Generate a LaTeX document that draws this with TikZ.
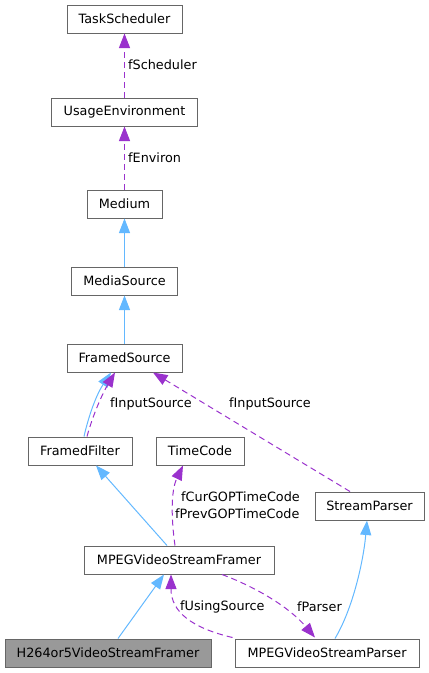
\documentclass[tikz,border=0pt]{standalone}
\usepackage{fontspec}
\setmainfont{DejaVu Sans}
\usetikzlibrary{arrows.meta,calc}
\definecolor{edgeblue}{HTML}{63B8FF}
\definecolor{edgepurple}{HTML}{9A32CD}
\definecolor{boxborder}{HTML}{666666}
\definecolor{boxgray}{HTML}{999999}
\begin{document}
\begin{tikzpicture}[x=1pt,y=-1pt,
  font=\fontsize{12.8}{15}\selectfont,
  box/.style={draw=boxborder,line width=1pt,fill=white,inner sep=0pt,minimum height=28pt,text=black},
  graybox/.style={box,fill=boxgray},
  inh/.style={draw=edgeblue,line width=1pt,-{Triangle[length=14.5pt,width=11pt]},fill=none},
  use/.style={draw=edgepurple,line width=1pt,dash pattern=on 6pt off 4pt,-{Triangle[length=14.5pt,width=11pt]}},
  lbl/.style={anchor=west,inner sep=0pt,text=black}]
\useasboundingbox (0,0) rectangle (429,673);
% nodes
\node[box,minimum width=115pt] (ts) at (124.5,19) {TaskScheduler};
\node[box,minimum width=146pt] (ue) at (124.5,112) {UsageEnvironment};
\node[box,minimum width=75pt] (med) at (124.5,204) {Medium};
\node[box,minimum width=106pt] (ms) at (124.5,281) {MediaSource};
\node[box,minimum width=115pt] (fs) at (124.5,358) {FramedSource};
\node[box,minimum width=104pt] (ff) at (80,451) {FramedFilter};
\node[box,minimum width=88pt] (tc) at (200,451) {TimeCode};
\node[box,minimum width=109pt] (sp) at (369.5,506) {StreamParser};
\node[box,minimum width=190pt] (mvsf) at (179,560) {MPEGVideoStreamFramer};
\node[graybox,minimum width=206pt] (h264) at (108,653) {H264or5VideoStreamFramer};
\node[box,minimum width=184pt] (mvsp) at (327,653) {MPEGVideoStreamParser};
% edges
\draw[use] (ue.north) -- (ts.south);
\node[lbl] (l1) at (128,65) {fScheduler};
\draw[use] (med.north) -- (ue.south);
\node[lbl] (l2) at (128,158) {fEnviron};
\draw[inh] (ms.north) -- (med.south);
\draw[inh] (fs.north) -- (ms.south);
\draw[inh] ($(ff.north)+(4,0)$) .. controls ($(ff.north)+(9,-22)$) and ($(fs.south)+(-28,22)$) .. ($(fs.south)+(-13.5,0)$);
\draw[use] ($(ff.north)+(7,0)$) .. controls ($(ff.north)+(13,-22)$) and ($(fs.south)+(-22,21)$) .. ($(fs.south)+(-9.5,0)$);
\node[lbl] (l3) at (110,404) {fInputSource};
\draw[use] ($(sp.north)+(-19.5,0)$) -- ($(fs.south)+(28.5,0)$);
\node[lbl] (l4) at (229,404) {fInputSource};
\draw[inh] ($(mvsf.north)+(-12,0)$) -- ($(ff.south)+(16,0)$);
\draw[use] ($(mvsf.north)+(-4,0)$) .. controls ($(mvsf.north)+(-8,-28)$) and ($(tc.south)+(-29,25)$) .. ($(tc.south)+(-17,0)$);
\node[lbl] (l5) at (181,497) {fCurGOPTimeCode};
\node[lbl] (l6) at (175,514) {fPrevGOPTimeCode};
\draw[inh] ($(mvsp.north)+(8,0)$) .. controls ($(mvsp.north)+(26,-30)$) and ($(sp.south)+(-6,40)$) .. ($(sp.south)+(-2.5,0)$);
\draw[inh] ($(h264.north)+(10,0)$) -- ($(mvsf.south)+(-15,0)$);
\draw[use] ($(mvsp.north west)+(-2,-1)$) .. controls (192,628) and (171,612) .. ($(mvsf.south)+(-8,0)$);
\node[lbl] (l7) at (180,607) {fUsingSource};
\draw[use] ($(mvsf.south)+(43,0)$) .. controls (258,588) and (290,608) .. ($(mvsp.north)+(-12,-1)$);
\node[lbl] (l8) at (297,607) {fParser};
\end{tikzpicture}
\end{document}
